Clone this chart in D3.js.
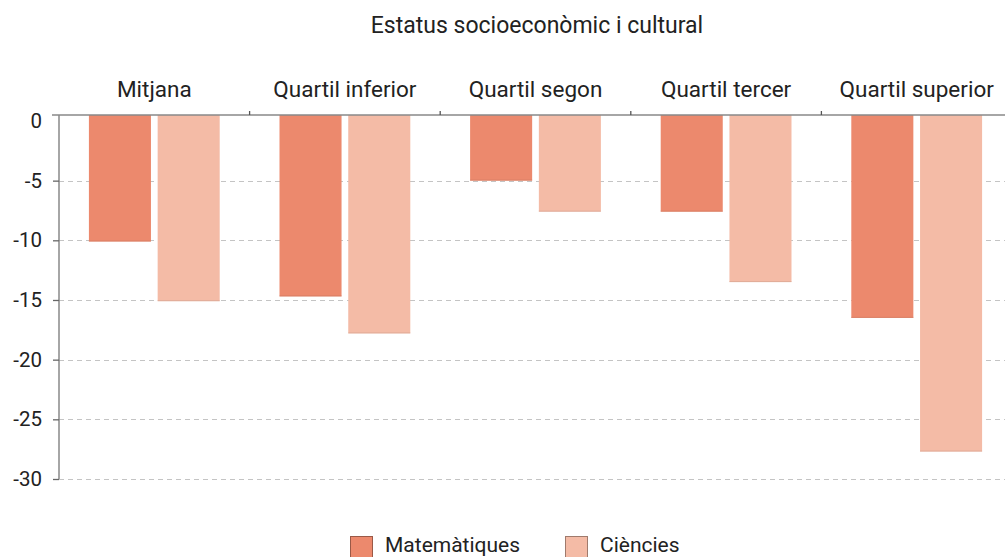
<!DOCTYPE html>
<html>
<head>
<meta charset="utf-8">
<script src="https://cdn.jsdelivr.net/npm/d3@7"></script>
<style>
  html, body { margin: 0; padding: 0; background: #fff; }
  svg { display: block; font-family: Roboto, "Noto Sans", sans-serif; }
</style>
</head>
<body>
<svg id="chart" width="1005" height="557"></svg>
<script>
const title = "Estatus socioeconòmic i cultural";
const categories = ["Mitjana", "Quartil inferior", "Quartil segon", "Quartil tercer", "Quartil superior"];
const seriesNames = ["Matemàtiques", "Ciències"];
const matematiques = [-10.1, -14.7, -5.0, -7.6, -16.5];
const ciencies = [-15.1, -17.8, -7.6, -13.5, -27.7];
const yTicks = [0, -5, -10, -15, -20, -25, -30];
const colors = ["#ec896d", "#f4bba6"];

const seriesValues = [matematiques, ciencies];
const rows = categories.map((c, i) => ({ cat: c, vals: seriesNames.map((s, j) => ({ s, v: seriesValues[j][i], j })) }));

const svg = d3.select("#chart");
const pLeft = 59, pRight = 1012, pTop = 115, pBottom = 479;

const x0 = d3.scaleBand().domain(categories).range([pLeft, pRight]).paddingInner(0).paddingOuter(0);
const x1 = d3.scaleBand().domain(seriesNames).range([0, x0.bandwidth()]).paddingInner(0.0975).paddingOuter(0.435);
const y = d3.scaleLinear().domain([0.5, -30]).range([pTop, pBottom]);

// title
svg.append("text").attr("x", 537).attr("y", 33).attr("text-anchor", "middle")
  .attr("font-size", 23).attr("fill", "#222").text(title);

// gridlines
const grid = svg.append("g");
grid.selectAll("line").data(yTicks.filter(t => t !== 0)).join("line")
  .attr("x1", pLeft).attr("x2", pRight)
  .attr("y1", d => Math.round(y(d)) + 0.5).attr("y2", d => Math.round(y(d)) + 0.5)
  .attr("stroke", "#c4c4c4").attr("stroke-width", 1.2).attr("stroke-dasharray", "5,4");

// bars
const groups = svg.append("g").selectAll("g").data(rows).join("g")
  .attr("transform", d => `translate(${x0(d.cat)},0)`);
groups.selectAll("rect").data(d => d.vals).join("rect")
  .attr("x", d => x1(d.s)).attr("width", x1.bandwidth())
  .attr("y", y(0.5)).attr("height", d => y(d.v) - y(0.5))
  .attr("fill", d => colors[d.j]);
groups.selectAll("line.edge").data(d => d.vals).join("line").attr("class", "edge")
  .attr("x1", d => x1(d.s)).attr("x2", d => x1(d.s) + x1.bandwidth())
  .attr("y1", d => y(d.v) - 0.5).attr("y2", d => y(d.v) - 0.5)
  .attr("stroke", d => d3.color(colors[d.j]).darker(0.4)).attr("stroke-width", 1).attr("opacity", 0.6);

// y axis
const yAxis = d3.axisLeft(y).tickValues(yTicks).tickSize(6).tickFormat(d => d);
const ya = svg.append("g").attr("transform", `translate(${pLeft},0)`).call(yAxis);
ya.select(".domain").attr("d", `M0,${pTop}V${pBottom}`).attr("stroke", "#888").attr("stroke-width", 1.5);
ya.selectAll(".tick line").attr("stroke", "#666").attr("stroke-width", 1.3)
  .attr("display", d => d === 0 ? "none" : null);
ya.selectAll(".tick text").attr("font-size", 20.5).attr("fill", "#222")
  .attr("font-family", "Roboto, sans-serif").attr("x", -17);

// top category axis
const xAxis = d3.axisTop(x0).tickSize(0).tickPadding(18);
const xa = svg.append("g").attr("transform", `translate(0,${pTop})`).call(xAxis);
xa.select(".domain").attr("d", `M${pLeft - 7},0H${pRight}`).attr("stroke", "#888").attr("stroke-width", 1.5);
xa.selectAll(".tick text").attr("font-size", 22.5).attr("fill", "#222").attr("font-family", "Roboto, sans-serif");
// boundary ticks between categories
svg.append("g").selectAll("line").data(categories.slice(1)).join("line")
  .attr("x1", d => x0(d)).attr("x2", d => x0(d))
  .attr("y1", pTop - 4).attr("y2", pTop)
  .attr("stroke", "#555").attr("stroke-width", 1.3);

// legend
const legendX = [350, 565];
const lg = svg.append("g").selectAll("g").data(seriesNames).join("g")
  .attr("transform", (d, i) => `translate(${legendX[i]},536)`);
lg.append("rect").attr("x", 0.5).attr("y", 0.5).attr("width", 22).attr("height", 22)
  .attr("fill", (d, i) => colors[i]).attr("stroke", (d, i) => d3.color(colors[i]).darker(1.2)).attr("stroke-width", 1);
lg.append("text").attr("x", 35).attr("y", 16).attr("font-size", 21).attr("fill", "#222").text(d => d);
</script>
</body>
</html>
